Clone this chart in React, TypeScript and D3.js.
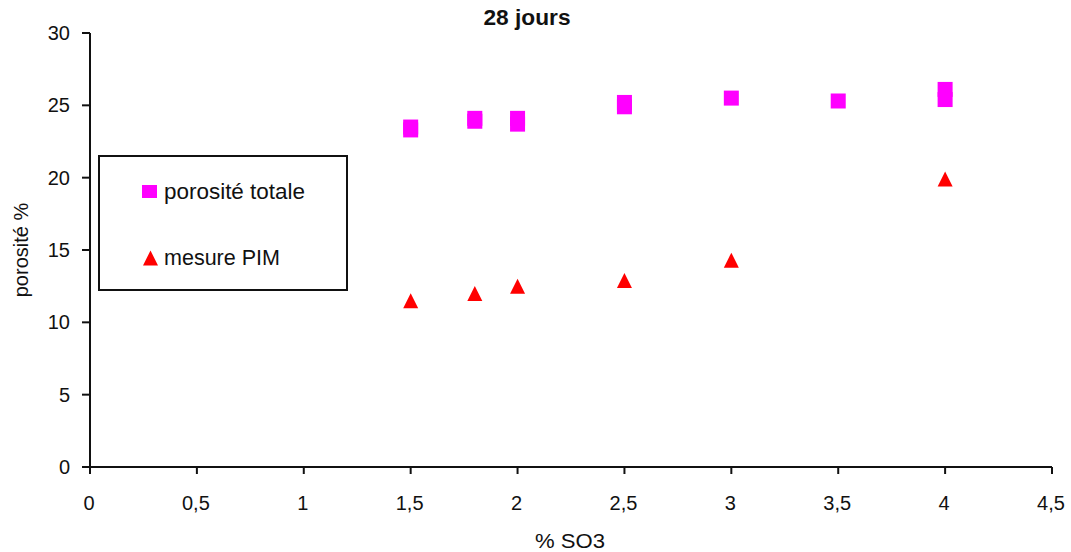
import React from "react";
import * as d3 from "d3";

const totalX = [1.5, 1.5, 1.8, 1.8, 2, 2, 2.5, 2.5, 3, 3.5, 4, 4];
const totalY = [23.5, 23.3, 24.1, 23.9, 24.1, 23.7, 25.2, 24.9, 25.5, 25.3, 26.1, 25.4];
const pimX = [1.5, 1.8, 2, 2.5, 3, 4];
const pimY = [11.5, 12.0, 12.5, 12.9, 14.3, 19.9];
const xTicks = [0, 0.5, 1, 1.5, 2, 2.5, 3, 3.5, 4, 4.5];
const yTicks = [0, 5, 10, 15, 20, 25, 30];
const title = "28 jours";
const xLabel = "% SO3";
const yLabel = "porosité %";
const seriesNames = ["porosité totale", "mesure PIM"];

const W = 1071;
const H = 552;
const x = d3.scaleLinear().domain([0, 4.5]).range([90, 1052]);
const y = d3.scaleLinear().domain([0, 30]).range([467, 33]);
const fmt = (v: number) => String(v).replace(".", ",");
const MAG = "#FF00FF";
const RED = "#FF0000";
const FONT = "'Liberation Sans', Arial, sans-serif";

const tri = (cx: number, cy: number, s: number) =>
  `M${cx},${cy - s / 2}L${cx + s / 2},${cy + s / 2}L${cx - s / 2},${cy + s / 2}Z`;

export default function App() {
  return (
    <svg
      width={W}
      height={H}
      style={{ position: "absolute", left: 0, top: 0, background: "#fff" }}
      fontFamily={FONT}
    >
      <rect x={0} y={0} width={W} height={H} fill="#fff" />
      <text x={527} y={25} textAnchor="middle" fontWeight="bold" fontSize={22} textLength={87} lengthAdjust="spacingAndGlyphs" fill="#111">
        {title}
      </text>

      {/* axes */}
      <line x1={x(0)} x2={x(4.5)} y1={y(0)} y2={y(0)} stroke="#111" strokeWidth={2} />
      <line x1={x(0)} x2={x(0)} y1={y(0)} y2={y(30)} stroke="#111" strokeWidth={2} />
      {yTicks.map((t) => (
        <g key={"y" + t}>
          <line x1={82} x2={x(0)} y1={y(t)} y2={y(t)} stroke="#111" strokeWidth={2} />
          <text x={70} y={y(t) + 7} textAnchor="end" fontSize={20} fill="#111">
            {fmt(t)}
          </text>
        </g>
      ))}
      {xTicks.map((t) => (
        <g key={"x" + t}>
          <line x1={x(t)} x2={x(t)} y1={y(0)} y2={y(0) + 7} stroke="#111" strokeWidth={2} />
          <text x={x(t) - 1} y={510} textAnchor="middle" fontSize={20} fill="#111">
            {fmt(t)}
          </text>
        </g>
      ))}
      <text x={570} y={548} textAnchor="middle" fontSize={20} textLength={70} lengthAdjust="spacingAndGlyphs" fill="#111">
        {xLabel}
      </text>
      <text
        transform={`translate(28,250) rotate(-90)`}
        textAnchor="middle"
        fontSize={20}
        fill="#111"
      >
        {yLabel}
      </text>

      {/* data */}
      {totalX.map((v, i) => (
        <rect key={"s" + i} x={x(v) - 7.5} y={y(totalY[i]) - 7.5} width={15} height={15} fill={MAG} />
      ))}
      {pimX.map((v, i) => (
        <path key={"t" + i} d={tri(x(v), y(pimY[i]), 15)} fill={RED} />
      ))}

      {/* legend */}
      <rect x={99} y={156} width={248} height={134} fill="#fff" stroke="#111" strokeWidth={2} />
      <rect x={142} y={185} width={15} height={13} fill={MAG} />
      <text x={164} y={199} fontSize={22} textLength={141} lengthAdjust="spacingAndGlyphs" fill="#111">
        {seriesNames[0]}
      </text>
      <path d={tri(150.5, 258, 15)} fill={RED} />
      <text x={164} y={265} fontSize={22} textLength={116} lengthAdjust="spacingAndGlyphs" fill="#111">
        {seriesNames[1]}
      </text>
    </svg>
  );
}
